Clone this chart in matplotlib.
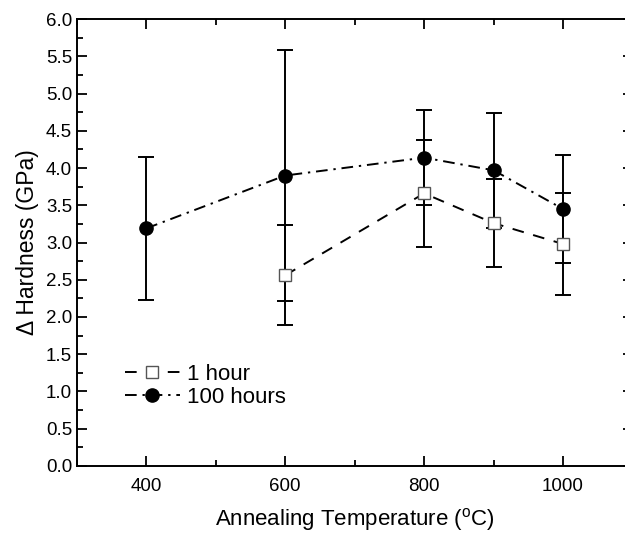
import matplotlib
matplotlib.use("Agg")
import matplotlib.pyplot as plt
from matplotlib.ticker import MultipleLocator

plt.rcParams['font.family'] = ['Liberation Sans', 'DejaVu Sans']
plt.rcParams['mathtext.fontset'] = 'custom'
plt.rcParams['mathtext.rm'] = 'Liberation Sans'

# 1 hour anneal
temp_1h = [600, 800, 900, 1000]
hard_1h = [2.56, 3.66, 3.26, 2.98]
err_1h = [0.67, 0.72, 0.59, 0.68]

# 100 hours anneal
temp_100h = [400, 600, 800, 900, 1000]
hard_100h = [3.19, 3.90, 4.14, 3.97, 3.45]
err_100h = [0.96, 1.68, 0.64, 0.77, 0.72]

fig = plt.figure(figsize=(6.25, 5.33), dpi=100)
ax = fig.add_axes([0.123, 0.126, 0.889, 0.838])

# error bars first, then lines + markers on top
ax.errorbar(temp_1h, hard_1h, yerr=err_1h, fmt='none', ecolor='black',
            elinewidth=1.4, capsize=6, capthick=1.4, zorder=2)
ax.errorbar(temp_100h, hard_100h, yerr=err_100h, fmt='none', ecolor='black',
            elinewidth=1.4, capsize=6, capthick=1.4, zorder=2)

ax.plot(temp_1h, hard_1h, linestyle=(0, (6, 5)), color='black', lw=1.4,
        marker='s', markersize=8, markerfacecolor='white',
        markeredgecolor='#555555', markeredgewidth=1.0, label='1 hour', zorder=3)
ax.plot(temp_100h, hard_100h, linestyle=(0, (6, 3, 1.2, 3)), color='black', lw=1.4,
        marker='o', markersize=9.5, markerfacecolor='black',
        markeredgecolor='black', label='100 hours', zorder=3)

ax.set_xlim(300, 1100)
ax.set_ylim(0, 6.0)
ax.xaxis.set_major_locator(MultipleLocator(200))
ax.xaxis.set_minor_locator(MultipleLocator(100))
ax.yaxis.set_major_locator(MultipleLocator(0.5))
ax.yaxis.set_minor_locator(MultipleLocator(0.25))
ax.yaxis.set_major_formatter(matplotlib.ticker.FormatStrFormatter('%.1f'))

ax.tick_params(which='both', direction='in', top=True, right=True, width=1.3,
               labelsize=13.5)
ax.tick_params(which='major', length=7)
ax.tick_params(which='minor', length=4)
ax.tick_params(axis='x', pad=9)
for s in ax.spines.values():
    s.set_linewidth(1.4)

ax.set_xlabel(r'Annealing Temperature ($^{\mathrm{o}}$C)', fontsize=16, labelpad=8)
ax.set_ylabel('\u0394 Hardness (GPa)', fontsize=16.5, labelpad=5)

ax.legend(loc='lower left', bbox_to_anchor=(0.05, 0.085), frameon=False,
          fontsize=16, handlelength=2.5, handletextpad=0.3, labelspacing=0.1)

fig.savefig('out.png', dpi=100)
